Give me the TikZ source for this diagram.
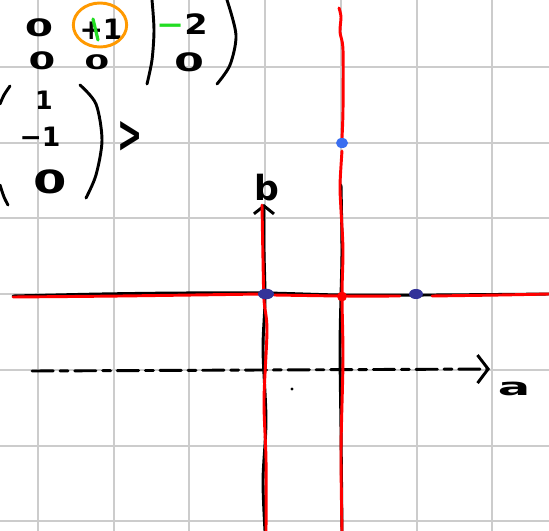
\documentclass[tikz,border=0pt]{standalone}
\usepackage{fontspec}
\setmainfont{DejaVu Sans}
\usetikzlibrary{arrows.meta}
\definecolor{gridgray}{HTML}{CCCCCC}
\definecolor{penred}{HTML}{FF0000}
\definecolor{pengreen}{HTML}{22DD22}
\definecolor{penorange}{HTML}{FF9900}
\definecolor{dotnavy}{HTML}{333399}
\definecolor{dotblue}{HTML}{3A6EF0}
\newcommand\handsize[1]{\fontsize{#1}{#1}\selectfont\bfseries}
\begin{document}
\begin{tikzpicture}[x=0.75pt,y=-0.75pt,line cap=round,line join=round,
  gridline/.style={gridgray,line width=1.5pt},
  ink/.style={black,line width=2.2pt},
  redink/.style={penred,line width=2.2pt},
  greenink/.style={pengreen,line width=2.4pt},
  hand/.style={inner sep=0pt,font=\handsize{21}},
  dot/.style={inner sep=0pt}]
\fill[white] (0,0) rectangle (549,531);
\useasboundingbox (0,0) rectangle (549,531);
% grid
\foreach \gx in {38,113.7,189.4,265.1,340.8,416.5,492.2}
  \draw[gridline] (\gx,0) -- (\gx,531);
\foreach \gy in {67,142.7,218.4,294.1,369.8,445.5,521.2}
  \draw[gridline] (0,\gy) -- (549,\gy);
% named coordinates
\coordinate (hL) at (13,296);
\coordinate (hR) at (549,294);
\coordinate (bBot) at (265,531);
\coordinate (bTop) at (264,204);
\coordinate (aStart) at (32,371);
\coordinate (aEnd) at (490,369);
\coordinate (cTop) at (341,185);
\coordinate (cBot) at (342,531);
% black lines
\draw[ink] plot[smooth] coordinates {(hL) (100,294) (180,293) (266,293) (342,295) (430,295) (hR)};
\draw[ink] plot[smooth] coordinates {(cTop) (342,250) (341,296) (340,350) (341,430) (cBot)};
\draw[ink,-{Straight Barb[length=6pt,width=15pt]}] plot[smooth] coordinates {(bBot) (263,480) (266,420) (263,350) (265,300) (264,250) (bTop)};
\draw[ink,dash pattern=on 16pt off 5pt on 6pt off 5pt,-{Straight Barb[length=8pt,width=21pt]}] (aStart) -- (aEnd);
% red lines
\draw[redink] plot[smooth] coordinates {(13,297) (120,296) (262,294)};
\draw[redink] plot[smooth] coordinates {(274,295) (342,296) (400,296)};
\draw[redink] plot[smooth] coordinates {(432,296) (500,295) (549,294)};
\draw[redink] plot[smooth] coordinates {(339,8) (341,17) (340,32) (343,50) (343,110) (342,138)};
\draw[redink] plot[smooth] coordinates {(342,151) (340,185) (341,210) (343,250) (342,296) (343,360) (341,450) (342,531)};
\draw[redink] plot[smooth] coordinates {(266,531) (266,460) (264,400) (267,330) (264,300) (263,260) (262,205)};
% dots
\fill[dotnavy] (266,294) ellipse [x radius=6pt,y radius=4pt];
\fill[dotnavy] (416,294) ellipse [x radius=5.2pt,y radius=3.8pt];
\fill[penred] (342,296.5) circle [radius=3.7pt];
\fill[dotblue] (342,143) ellipse [x radius=4.5pt,y radius=3.8pt];
\fill[black] (292,389) circle [radius=1.2pt];
% labels of axes
\node[hand,font=\handsize{26}] (lb) at (267,188) {b};
\node[hand,font=\handsize{18}] (la) at (514,389) {\scalebox{2}[1]{a}};
% matrix strokes
\draw[ink] plot[smooth] coordinates {(152,0) (154,30) (152,60) (147,84)};
\draw[ink] plot[smooth] coordinates {(227,0) (236,35) (230,65) (217,84)};
\draw[ink] plot[smooth] coordinates {(10,86) (4,95) (0,104)};
\draw[ink] plot[smooth] coordinates {(0,185) (4,197) (8,205)};
\draw[ink] plot[smooth] coordinates {(80,85) (96,104) (102,140) (96,175) (86,198)};
% matrix texts
\node[hand,font=\handsize{18}] (m11) at (39,28) {\scalebox{1.7}[1]{0}};
\node[hand] (m12) at (101,29) {+1};
\draw[greenink] (93,19) -- (98,40);
\draw[penorange,line width=2.2pt] (100,25) ellipse [x radius=20pt,y radius=16.5pt];
\node[hand] (m13) at (182,24) {\scalebox{1.2}[1]{\color{pengreen}−\color{black}2}};
\node[hand,font=\handsize{18}] (m21) at (42,61) {\scalebox{1.6}[1]{0}};
\node[hand,font=\handsize{15}] (m22) at (97,62) {\scalebox{1.8}[1]{0}};
\node[hand,font=\handsize{19}] (m23) at (189,62) {\scalebox{1.7}[1]{0}};
\node[hand,font=\handsize{19}] (v1) at (44,100) {1};
\node[hand,font=\handsize{20}] (v2) at (40,137) {−1};
\node[hand,font=\handsize{24}] (v3) at (50,182) {\scalebox{1.5}[1]{0}};
\node[hand,font=\handsize{30}] (gt) at (130,137) {\scalebox{0.75}[1.3]{>}};
\end{tikzpicture}
\end{document}
